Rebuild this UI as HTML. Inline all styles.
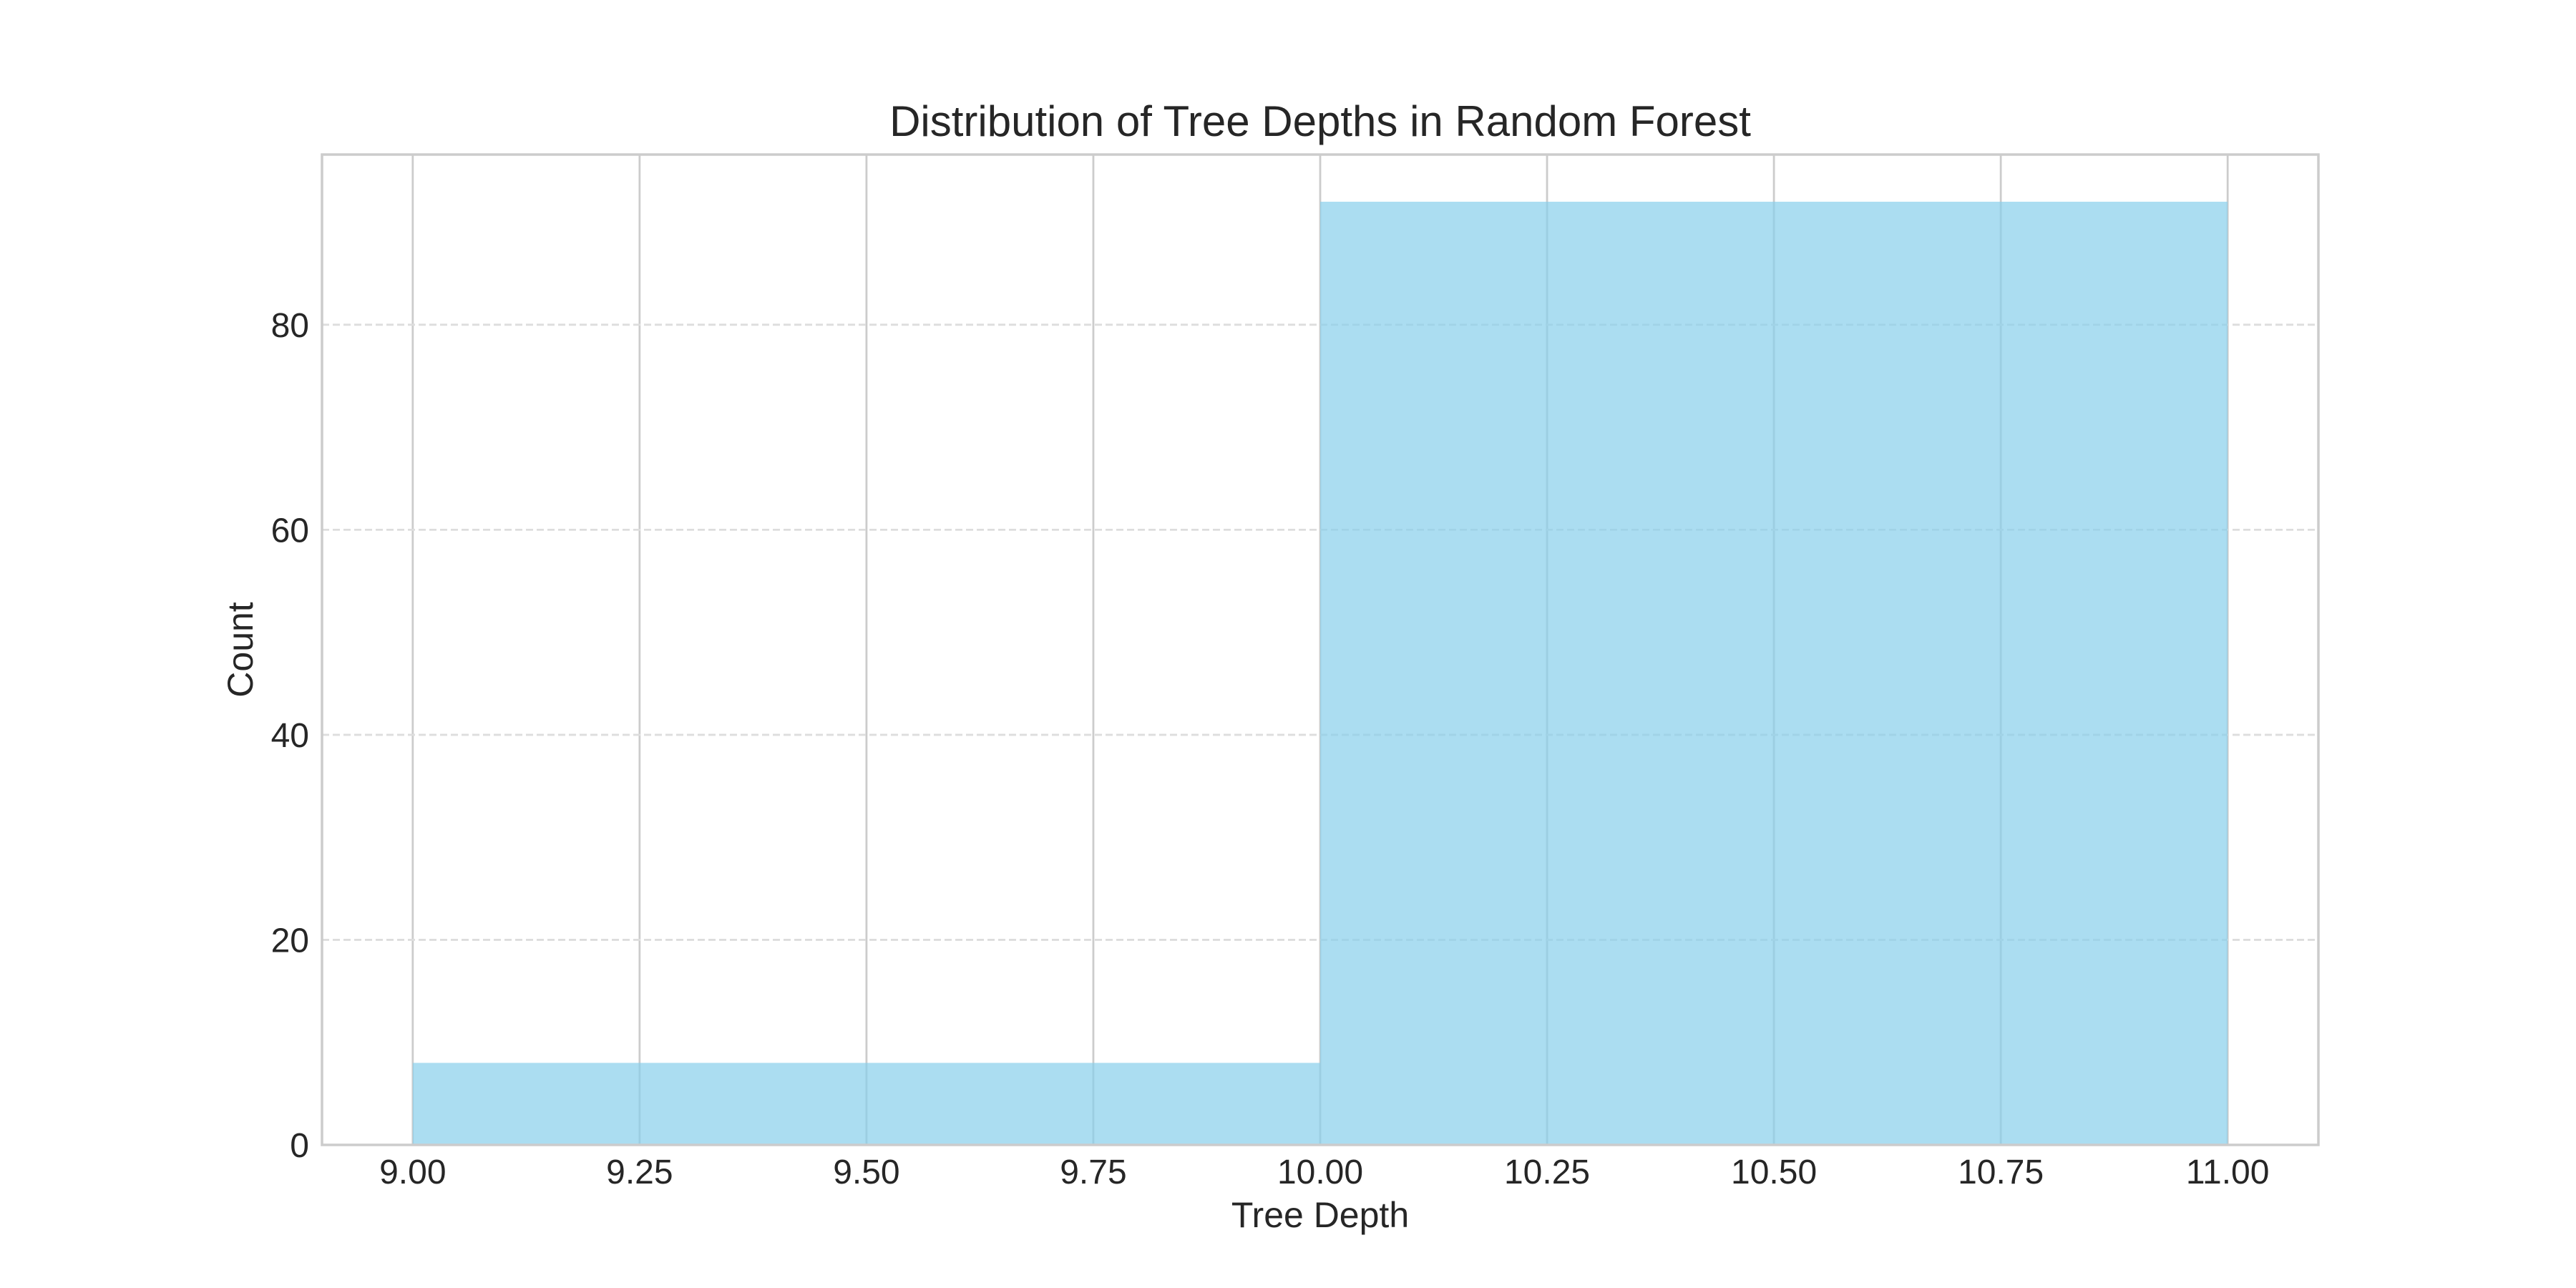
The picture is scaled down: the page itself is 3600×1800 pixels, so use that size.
<!DOCTYPE html>
<html><head><meta charset="utf-8"><style>
html,body{margin:0;padding:0;background:#fff;}
svg{display:block;font-family:"Liberation Sans",Arial,sans-serif;}
</style></head><body>
<svg id="chart" width="3600" height="1800" viewBox="0 0 3600 1800"></svg>
<script>
const binEdges = [9, 10, 11];
const counts = [8, 92];
const xTicks = [9, 9.25, 9.5, 9.75, 10, 10.25, 10.5, 10.75, 11];
const xTickLabels = ["9.00","9.25","9.50","9.75","10.00","10.25","10.50","10.75","11.00"];
const yTicks = [0, 20, 40, 60, 80];
const yTickLabels = ["0","20","40","60","80"];

const L=450,R=3240,T=216,B=1600;
const xMin=8.9,xMax=11.1,yMin=0,yMax=96.6;
const sx=v=>L+(v-xMin)/(xMax-xMin)*(R-L);
const sy=v=>B-(v-yMin)/(yMax-yMin)*(B-T);
const svg=document.getElementById('chart');
const NS='http://www.w3.org/2000/svg';
function mk(tag,attrs,parent){const e=document.createElementNS(NS,tag);for(const k in attrs)e.setAttribute(k,attrs[k]);(parent||svg).appendChild(e);return e;}

const grid=mk('g',{});


xTicks.forEach((t,i)=>{
  const l=mk('line',{x1:sx(t),x2:sx(t),y1:T,y2:B,stroke:'#cccccc','stroke-width':2.8},grid);
  
  
});
yTicks.forEach((t,i)=>{
  if(t===0)return;
  const l=mk('line',{x1:L,x2:R,y1:sy(t),y2:sy(t),stroke:'#dddddd','stroke-width':2.8,'stroke-dasharray':'10 5'},grid);
  
  
});

counts.forEach((c,i)=>{
  const r=mk('rect',{x:sx(binEdges[i]),y:sy(c),width:sx(binEdges[i+1])-sx(binEdges[i]),height:sy(0)-sy(c),fill:'#87ceeb','fill-opacity':0.7});
  
  
});

const frame=mk('rect',{x:L,y:T,width:R-L,height:B-T,fill:'none',stroke:'#cccccc','stroke-width':3.5});



xTicks.forEach((t,i)=>{
  const tx=mk('text',{x:sx(t),y:1654,'text-anchor':'middle','font-size':48,fill:'#262626'});
  tx.textContent=xTickLabels[i];
  
  
});
yTicks.forEach((t,i)=>{
  const tx=mk('text',{x:432,y:sy(t)+17,'text-anchor':'end','font-size':48,fill:'#262626'});
  tx.textContent=yTickLabels[i];
  
  
});

const xl=mk('text',{x:(L+R)/2,y:1715,'text-anchor':'middle','font-size':50,fill:'#262626'});
xl.textContent='Tree Depth';


const yl=mk('text',{x:0,y:0,'text-anchor':'middle','font-size':50,fill:'#262626',transform:'translate(353,908) rotate(-90)'});
yl.textContent='Count';


const ti=mk('text',{x:(L+R)/2,y:190,'text-anchor':'middle','font-size':60,fill:'#262626'});
ti.textContent='Distribution of Tree Depths in Random Forest';


</script>
</body></html>
